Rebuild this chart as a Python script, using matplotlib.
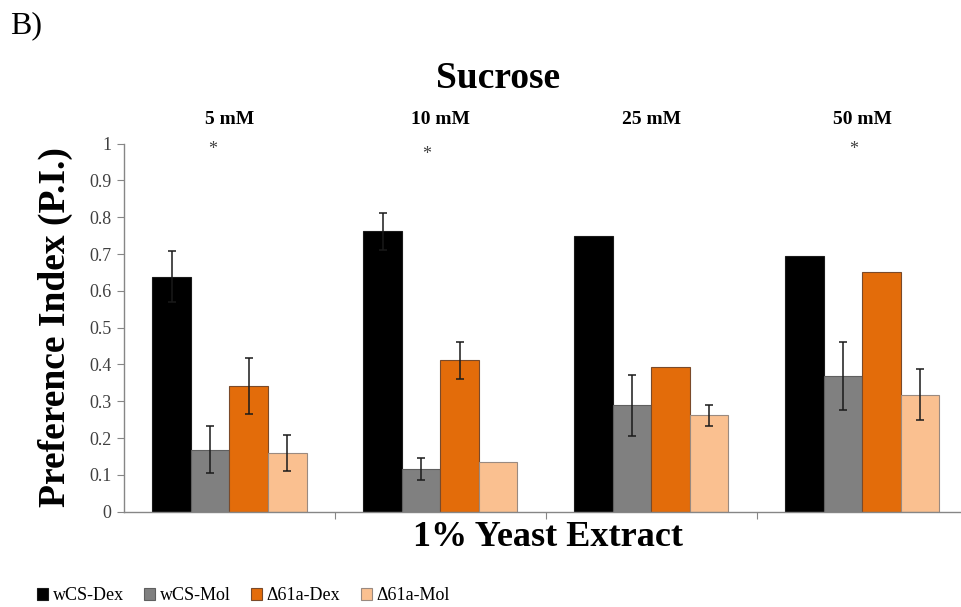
import matplotlib.pyplot as plt
import numpy as np
from matplotlib.patches import Patch

plt.rcParams["font.family"] = ["Liberation Serif", "DejaVu Serif"]

concentrations = ["5 mM", "10 mM", "25 mM", "50 mM"]
series = ["wCS-Dex", "wCS-Mol", "\u039461a-Dex", "\u039461a-Mol"]
colors = ["#000000", "#808080", "#E36C0A", "#FAC090"]
edges = ["#1a1a1a", "#5f5f5f", "#7a4a2a", "#9a8a80"]

# preference index per series, one value per concentration
wcs_dex = [0.639, 0.762, 0.750, 0.695]
wcs_mol = [0.168, 0.115, 0.289, 0.369]
d61a_dex = [0.342, 0.411, 0.393, 0.651]
d61a_mol = [0.160, 0.136, 0.262, 0.318]

wcs_dex_err = [0.070, 0.050, 0.0, 0.0]
wcs_mol_err = [0.064, 0.030, 0.083, 0.092]
d61a_dex_err = [0.077, 0.050, 0.0, 0.0]
d61a_mol_err = [0.049, 0.0, 0.029, 0.070]

# significance markers: (concentration index, x offset, height)
stars = [(0, -0.078, 0.985), (1, -0.064, 0.972), (3, -0.04, 0.985)]

values = [wcs_dex, wcs_mol, d61a_dex, d61a_mol]
errors = [wcs_dex_err, wcs_mol_err, d61a_dex_err, d61a_mol_err]

W, H = 961, 607
fig = plt.figure(figsize=(W / 100, H / 100), dpi=100)
ax = fig.add_axes([124 / W, 1 - 511.7 / H, (W - 124) / W, (511.7 - 143.7) / H])

x = np.arange(len(concentrations))
width = 0.1825
for i, (vals, errs) in enumerate(zip(values, errors)):
    pos = x + (i - 1.5) * width
    ax.bar(pos, vals, width, color=colors[i], edgecolor=edges[i], linewidth=0.8, label=series[i], zorder=2)
    errs = np.array(errs)
    mask = errs > 0
    ax.errorbar(pos[mask], np.array(vals)[mask], yerr=errs[mask], fmt="none",
                ecolor="#1a1a1a", elinewidth=1.1, capsize=3, capthick=1.1, zorder=3)

ax.set_xlim(-0.5, 3.467)
ax.set_ylim(0, 1)
ax.set_yticks(np.arange(0, 1.01, 0.1))
ax.set_yticklabels(["0"] + [f"{v:.1f}" for v in np.arange(0.1, 0.95, 0.1)] + ["1"])
ax.tick_params(axis="y", direction="out", length=5, color="#868686", labelsize=13, labelcolor="#404040", pad=4)
ax.set_xticks([0.5, 1.5, 2.5])
ax.set_xticklabels([])
ax.tick_params(axis="x", direction="out", length=5, color="#868686")
for side in ["top", "right"]:
    ax.spines[side].set_visible(False)
for side in ["left", "bottom"]:
    ax.spines[side].set_color("#868686")
    ax.spines[side].set_linewidth(1.0)

for i, label in enumerate(concentrations):
    ax.text(i, 1.067, label, ha="center", va="center", fontsize=14, fontweight="bold", clip_on=False)
for idx, dx, y in stars:
    ax.text(idx + dx, y, "*", ha="center", va="center", fontsize=13, color="#404040", clip_on=False)

fig.text(498 / W, 1 - 88 / H, "Sucrose", ha="center", va="baseline", fontsize=27, fontweight="bold")
fig.text(10 / W, 1 - 33 / H, "B)", ha="left", va="baseline", fontsize=23)
fig.text(548 / W, 1 - 537 / H, "1% Yeast Extract", ha="center", va="center", fontsize=26, fontweight="bold")
fig.text(55 / W, 1 - 327 / H, "Preference Index (P.I.)", ha="center", va="center", rotation=90,
         fontsize=27, fontweight="bold")

handles = [Patch(facecolor=c, edgecolor=e, linewidth=0.8) for c, e in zip(colors, edges)]
fig.legend(handles, series, loc="center left", bbox_to_anchor=(30 / W, 1 - 596 / H), ncol=4,
           frameon=False, fontsize=13, handlelength=0.6, handleheight=0.6, handletextpad=0.25,
           columnspacing=1.15, borderaxespad=0)

fig.savefig("out.png", dpi=100)
